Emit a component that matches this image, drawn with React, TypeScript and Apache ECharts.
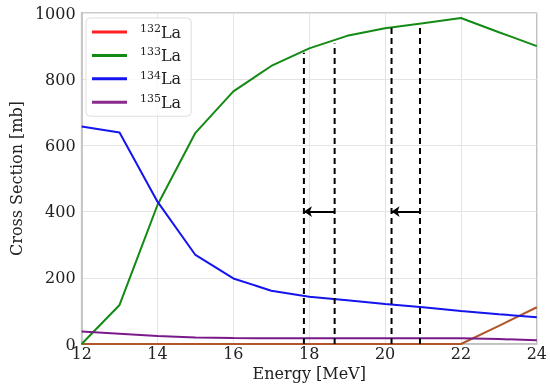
import React, { useEffect, useRef } from "react";
import * as echarts from "echarts";

const energies = [12, 13, 14, 15, 16, 17, 18, 19, 20, 21, 22, 23, 24];
const la132 = [0, 0, 0, 0, 0, 0, 0, 0, 0, 0, 0, 55, 111];
const la133 = [0, 118, 420, 638, 763, 840, 893, 931, 954, 969, 985, 942, 900];
const la134 = [657, 639, 430, 269, 198, 161, 143, 132, 121, 111, 100, 90, 81];
const la135 = [38, 31, 24, 20, 18, 17, 17, 17, 17, 17, 17, 15, 11];
const seriesNames = ["132La", "133La", "134La", "135La"];
const massNumbers = ["132", "133", "134", "135"];
const dashX = [17.86, 18.67, 20.17, 20.92];
const dashTop = [880, 908, 955, 967];
const arrowY = 400;
const xTicks = [12, 14, 16, 18, 20, 22, 24];
const yTicks = [0, 200, 400, 600, 800, 1000];

const FONT = "DejaVu Serif";

export default function App() {
  const ref = useRef<HTMLDivElement>(null);
  useEffect(() => {
    if (!ref.current) return;
    const chart = echarts.init(ref.current, undefined, { renderer: "svg" });
    const pair = (ys: number[]) => energies.map((x, i) => [x, ys[i]]);
    const lineColors = ["#b0562a", "#138a13", "#1414ee", "#7a1a8a"];
    const legendColors = ["#ff2020", "#138a13", "#1414ee", "#8a2a8a"];
    const datasets = [la132, la133, la134, la135];
    const mainSeries = datasets.map((d, i) => ({
      type: "line",
      name: seriesNames[i],
      data: pair(d),
      symbol: "none",
      lineStyle: { color: lineColors[i], width: 2 },
      itemStyle: { color: legendColors[i] },
      z: 3,
    }));
    const dashSeries = dashX.map((x, i) => ({
      type: "line",
      name: "dash" + i,
      data: [
        [x, 0],
        [x, dashTop[i]],
      ],
      symbol: "none",
      lineStyle: { color: "#000", width: 2, type: [6, 4] },
      z: 4,
    }));
    const arrowSeries = {
      type: "lines",
      coordinateSystem: "cartesian2d",
      symbol: ["none", "arrow"],
      symbolSize: 8,
      lineStyle: { color: "#000", width: 2, opacity: 1 },
      z: 5,
      data: [
        { coords: [[dashX[1], arrowY], [dashX[0], arrowY]] },
        { coords: [[dashX[3], arrowY], [dashX[2], arrowY]] },
      ],
    };
    chart.setOption({
      animation: false,
      grid: {
        left: 78,
        right: 13,
        top: 13,
        bottom: 47,
        show: true,
        borderColor: "#bdbdbd",
        borderWidth: 1.5,
      },
      legend: {
        left: 86,
        top: 18,
        orient: "vertical",
        padding: [5, 10, 5, 6],
        borderColor: "#dddddd",
        borderWidth: 1,
        borderRadius: 4,
        backgroundColor: "rgba(255,255,255,0.8)",
        itemWidth: 35,
        itemHeight: 3,
        itemGap: 5.4,
        icon: "rect",
        data: seriesNames.map((n, i) => ({ name: n, itemStyle: { color: legendColors[i] } })),
        formatter: (name: string) => {
          const i = seriesNames.indexOf(name);
          return `{s|${massNumbers[i]}}{t|La}`;
        },
        textStyle: {
          padding: [0, 0, 0, 8],
          rich: {
            s: { fontFamily: FONT, fontSize: 11, color: "#222", padding: [0, 0, 7, 0], lineHeight: 19 },
            t: { fontFamily: FONT, fontSize: 16, color: "#222", lineHeight: 19 },
          },
        },
      },
      xAxis: {
        type: "value",
        min: 12,
        max: 24,
        interval: 2,
        name: "Energy [MeV]",
        nameLocation: "middle",
        nameGap: 20,
        nameTextStyle: { fontFamily: FONT, fontSize: 16, color: "#222" },
        axisLine: { show: true, lineStyle: { color: "#bdbdbd", width: 1.5 } },
        axisTick: { show: false },
        axisLabel: {
          fontFamily: FONT,
          fontSize: 16,
          color: "#222",
          margin: 1,
          formatter: (v: number) => (xTicks.includes(v) ? String(v) : ""),
        },
        splitLine: { show: true, lineStyle: { color: "#e4e4e4", width: 1 } },
      },
      yAxis: {
        type: "value",
        min: 0,
        max: 1000,
        interval: 200,
        name: "Cross Section [mb]",
        nameLocation: "middle",
        nameGap: 56,
        nameTextStyle: { fontFamily: FONT, fontSize: 16, color: "#222" },
        axisLine: { show: true, lineStyle: { color: "#bdbdbd", width: 1.5 } },
        axisTick: { show: false },
        axisLabel: {
          fontFamily: FONT,
          fontSize: 16,
          color: "#222",
          margin: 6,
          formatter: (v: number) => (yTicks.includes(v) ? String(v) : ""),
        },
        splitLine: { show: true, lineStyle: { color: "#e4e4e4", width: 1 } },
      },
      series: [...mainSeries, ...dashSeries, arrowSeries],
    });
    return () => chart.dispose();
  }, []);
  return (
    <div
      ref={ref}
      style={{ position: "fixed", left: 0, top: 0, width: 550, height: 391 }}
    />
  );
}
